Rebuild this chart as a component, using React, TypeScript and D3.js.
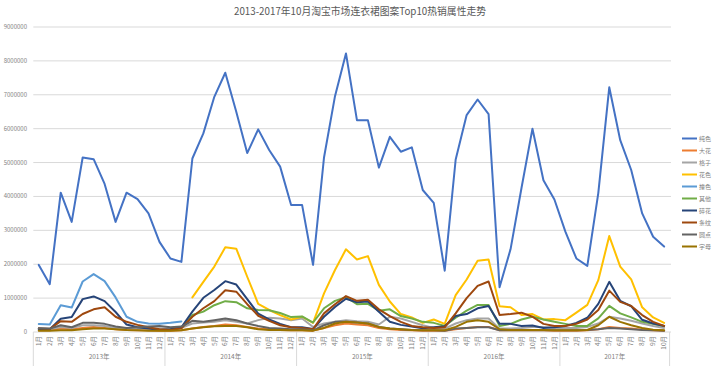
import React from "react";
import * as d3 from "d3";

const TITLE = "2013-2017年10月淘宝市场连衣裙图案Top10热销属性走势";
const YEARS = ["2013年", "2014年", "2015年", "2016年", "2017年"];
const MONTHS_PER_YEAR = [12, 12, 12, 12, 10];
const Y_TICKS = [0, 1000000, 2000000, 3000000, 4000000, 5000000, 6000000, 7000000, 8000000, 9000000];

const SERIES_NAMES = ["纯色", "大花", "格子", "花色", "撞色", "其他", "碎花", "条纹", "圆点", "字母"];
const SERIES_COLORS = ["#4472C4", "#ED7D31", "#A5A5A5", "#FFC000", "#5B9BD5", "#70AD47", "#264478", "#9E480E", "#636363", "#997300"];

const chunse = [1980000,1410000,4110000,3250000,5150000,5100000,4370000,3250000,4110000,3920000,3500000,2660000,
  2170000,2070000,5120000,5860000,6940000,7650000,6500000,5280000,5980000,5370000,4880000,3750000,
  3750000,1980000,5150000,6960000,8220000,6250000,6250000,4850000,5760000,5320000,5450000,4190000,
  3810000,1810000,5090000,6400000,6860000,6430000,1320000,2440000,4250000,6000000,4480000,3910000,
  2960000,2170000,1950000,4100000,7220000,5660000,4780000,3500000,2810000,2520000];
const dahua = [50000,50000,100000,80000,120000,150000,120000,80000,60000,50000,50000,40000,
  40000,50000,100000,150000,180000,220000,200000,150000,100000,80000,60000,50000,
  50000,40000,120000,200000,250000,220000,200000,120000,80000,60000,50000,40000,
  40000,40000,80000,120000,150000,150000,50000,50000,50000,50000,50000,40000,
  40000,40000,50000,80000,150000,120000,100000,70000,50000,40000];
const gezi = [80000,80000,150000,120000,200000,200000,180000,120000,120000,100000,100000,100000,
  100000,120000,250000,280000,300000,350000,300000,250000,350000,420000,400000,350000,
  400000,150000,250000,300000,350000,320000,300000,220000,450000,400000,300000,200000,
  120000,100000,250000,350000,400000,400000,100000,100000,120000,150000,150000,120000,
  120000,120000,150000,250000,450000,400000,330000,250000,180000,120000];
const huase = [null,null,null,null,null,null,null,null,null,null,null,null,
  null,null,1020000,1480000,1930000,2500000,2460000,1630000,830000,650000,500000,370000,
  450000,270000,1140000,1830000,2440000,2140000,2240000,1390000,900000,530000,430000,270000,
  370000,240000,1090000,1550000,2100000,2140000,760000,730000,500000,530000,370000,380000,
  350000,570000,800000,1530000,2830000,1930000,1550000,730000,430000,270000];
const zhuangse = [236000,220000,790000,720000,1490000,1710000,1500000,1020000,450000,300000,250000,240000,
  270000,310000,null,null,null,null,null,null,null,null,null,null,
  null,null,null,null,null,null,null,null,null,null,null,null,
  null,null,null,null,null,null,null,null,null,null,null,null,
  null,null,null,null,null,null,null,null,null,null];
const qita = [null,null,null,null,null,null,null,null,null,null,null,null,
  80000,120000,500000,600000,790000,910000,880000,700000,650000,640000,560000,440000,
  460000,280000,700000,920000,1030000,820000,830000,630000,670000,470000,400000,300000,
  270000,180000,420000,630000,800000,800000,180000,240000,370000,450000,370000,300000,
  240000,180000,180000,400000,770000,550000,430000,300000,240000,180000];
const suihua = [90000,80000,390000,440000,970000,1050000,910000,590000,220000,140000,100000,60000,
  80000,140000,600000,1010000,1240000,1500000,1400000,970000,540000,370000,240000,140000,
  140000,90000,450000,740000,980000,880000,900000,600000,300000,210000,160000,110000,
  140000,170000,470000,530000,700000,770000,240000,240000,180000,190000,120000,140000,
  180000,270000,420000,830000,1480000,920000,760000,360000,250000,180000];
const tiaowen = [110000,90000,320000,300000,530000,670000,730000,450000,300000,210000,140000,80000,
  60000,110000,450000,700000,910000,1230000,1190000,820000,480000,330000,200000,140000,
  120000,80000,550000,820000,1060000,920000,950000,670000,470000,300000,180000,140000,
  120000,140000,550000,1000000,1360000,1490000,500000,530000,570000,450000,240000,180000,
  180000,240000,370000,650000,1220000,890000,770000,500000,300000,180000];
const yuandian = [110000,100000,200000,140000,270000,270000,240000,160000,120000,140000,160000,180000,
  140000,160000,330000,300000,350000,400000,350000,250000,180000,120000,100000,80000,
  80000,50000,200000,300000,300000,280000,250000,150000,100000,80000,60000,50000,
  50000,40000,100000,120000,140000,140000,50000,50000,50000,50000,50000,50000,
  50000,50000,60000,80000,120000,100000,80000,60000,50000,40000];
const zimu = [40000,40000,50000,50000,80000,100000,100000,80000,60000,50000,40000,40000,
  40000,50000,100000,140000,170000,180000,180000,140000,80000,60000,60000,50000,
  50000,40000,120000,250000,300000,280000,250000,150000,100000,80000,60000,50000,
  50000,50000,150000,300000,350000,300000,80000,60000,60000,60000,60000,50000,
  50000,50000,60000,200000,450000,300000,200000,120000,70000,50000];

const SERIES_VALUES = [chunse, dahua, gezi, huase, zhuangse, qita, suihua, tiaowen, yuandian, zimu];

const FONT = "'Noto Sans CJK SC', 'Noto Sans', sans-serif";

export default function App() {
  const W = 720, H = 366;
  const left = 33.3, right = 669.6, top = 27, bottom = 332;

  const categories: { year: number; month: number }[] = [];
  MONTHS_PER_YEAR.forEach((n, yi) => {
    for (let m = 1; m <= n; m++) categories.push({ year: yi, month: m });
  });
  const idx = categories.map((_, i) => i);

  const x = d3.scaleBand<number>().domain(idx).range([left, right]).padding(0);
  const bw = x.bandwidth();
  const cx = (i: number) => (x(i) as number) + bw / 2;
  const y = d3.scaleLinear().domain([0, 9000000]).range([bottom, top]);

  const line = d3
    .line<number | null>()
    .defined((d) => d !== null)
    .x((_, i) => cx(i))
    .y((d) => y(d as number));

  const boundaries: number[] = [0];
  let acc = 0;
  MONTHS_PER_YEAR.forEach((n) => {
    acc += n;
    boundaries.push(acc);
  });

  return (
    <svg width={W} height={H} style={{ position: "absolute", left: 0, top: 0, background: "#fff" }}>
      <rect x={0} y={0} width={W} height={H} fill="#fff" />
      <text x={360} y={15} textAnchor="middle" fontFamily={FONT} fontSize={10.5} fill="#595959"
        textLength={252} lengthAdjust="spacingAndGlyphs">{TITLE}</text>

      {Y_TICKS.map((t) => (
        <g key={t}>
          <line x1={left} x2={671} y1={y(t)} y2={y(t)} stroke="#d9d9d9" strokeWidth={1} />
          <text x={27} y={y(t) + 2} textAnchor="end" fontFamily={FONT} fontSize={6} fill="#7f7f7f">{t}</text>
        </g>
      ))}

      {boundaries.map((b, k) => {
        const bx = b < categories.length ? (x(b) as number) : right;
        return <line key={k} x1={bx} x2={bx} y1={bottom} y2={H} stroke="#d9d9d9" strokeWidth={1} />;
      })}

      {categories.map((c, i) => (
        <text key={i} transform={`translate(${cx(i) + 2.2},${bottom + 4}) rotate(-90)`} textAnchor="end"
          fontFamily={FONT} fontSize={6.5} fill="#7f7f7f">{`${c.month}月`}</text>
      ))}

      {YEARS.map((yr, k) => {
        const x0 = x(boundaries[k]) as number;
        const x1 = boundaries[k + 1] < categories.length ? (x(boundaries[k + 1]) as number) : right;
        return (
          <text key={yr} x={(x0 + x1) / 2} y={359} textAnchor="middle" fontFamily={FONT} fontSize={6.5} fill="#7f7f7f">{yr}</text>
        );
      })}

      {SERIES_VALUES.map((vals, si) => (
        <path key={si} d={line(vals) || ""} fill="none" stroke={SERIES_COLORS[si]} strokeWidth={2}
          strokeLinejoin="round" strokeLinecap="round" />
      ))}

      {SERIES_NAMES.map((name, si) => {
        const ly = 138.5 + si * 12;
        return (
          <g key={name}>
            <line x1={682} x2={697} y1={ly} y2={ly} stroke={SERIES_COLORS[si]} strokeWidth={2} />
            <text x={699} y={ly + 2} fontFamily={FONT} fontSize={6} fill="#7f7f7f">{name}</text>
          </g>
        );
      })}
    </svg>
  );
}
